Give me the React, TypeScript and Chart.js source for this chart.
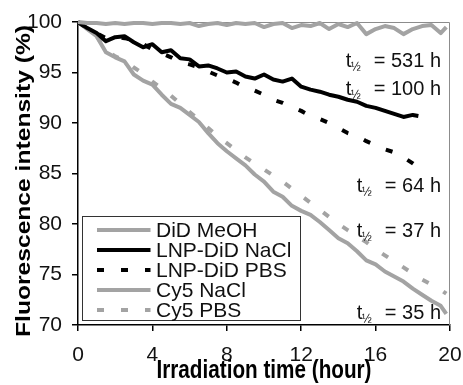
import { useEffect, useRef } from "react";
import { Chart, registerables } from "chart.js";
Chart.register(...registerables);

const timeFull = [0, 0.5, 1, 1.5, 2, 2.5, 3, 3.5, 4, 4.5, 5, 5.5, 6, 6.5, 7, 7.5, 8, 8.5, 9, 9.5, 10, 10.5, 11, 11.5, 12, 12.5, 13, 13.5, 14, 14.5, 15, 15.5, 16, 16.5, 17, 17.5, 18, 18.5, 19, 19.5, 19.8];
const timeLNP = [0, 0.5, 1, 1.5, 2, 2.5, 3, 3.5, 4, 4.5, 5, 5.5, 6, 6.5, 7, 7.5, 8, 8.5, 9, 9.5, 10, 10.5, 11, 11.5, 12, 12.5, 13, 13.5, 14, 14.5, 15, 15.5, 16, 16.5, 17, 17.5, 18, 18.3];

const didMeOH = [100, 99.9, 99.9, 99.8, 99.9, 99.8, 99.9, 99.9, 99.8, 99.9, 99.9, 99.8, 99.9, 99.6, 99.8, 99.9, 99.7, 99.9, 99.8, 99.9, 99.5, 99.8, 99.9, 99.4, 99.7, 99.6, 99.9, 99.3, 99.8, 99.5, 99.9, 98.8, 99.3, 99.6, 99.4, 98.8, 99.3, 99.6, 99.7, 98.9, 99.5];
const lnpNaCl = [100, 99.4, 98.9, 98.1, 98.5, 98.6, 98.0, 97.5, 97.8, 97.0, 97.2, 96.4, 96.3, 95.6, 95.7, 95.4, 95.0, 95.1, 94.6, 94.4, 94.8, 94.3, 94.1, 94.4, 93.6, 93.3, 93.1, 92.8, 92.6, 92.3, 92.1, 91.7, 91.5, 91.2, 90.9, 90.6, 90.8, 90.7];
const lnpPBS = [100, 99.4, 98.9, 98.4, 98.5, 98.4, 98.2, 97.8, 97.3, 96.9, 96.5, 96.0, 95.8, 95.5, 95.1, 94.7, 94.4, 94.0, 93.5, 93.2, 92.8, 92.3, 92.0, 91.6, 91.2, 90.7, 90.4, 90.0, 89.5, 89.0, 88.7, 88.2, 87.8, 87.4, 87.1, 86.6, 86.0, 85.6];
const cy5NaCl = [100, 99.3, 98.6, 97.0, 96.5, 96.1, 94.8, 94.2, 93.8, 92.8, 91.9, 91.5, 90.8, 90.1, 89.0, 88.0, 87.2, 86.5, 85.8, 84.9, 84.2, 83.2, 82.7, 81.8, 81.3, 80.9, 80.2, 79.4, 78.6, 78.1, 77.3, 76.4, 76.0, 75.3, 74.8, 74.3, 73.6, 73.0, 72.4, 71.9, 71.1];
const cy5PBS = [100, 99.3, 98.6, 97.2, 96.6, 96.2, 95.5, 94.9, 94.1, 93.4, 92.7, 91.9, 91.1, 90.3, 89.5, 88.7, 88.0, 87.3, 86.6, 86.0, 85.4, 84.8, 84.2, 83.5, 82.8, 82.1, 81.4, 80.7, 80.0, 79.4, 78.8, 78.2, 77.5, 76.9, 76.3, 75.7, 75.1, 74.5, 74.0, 73.5, 73.1];

const seriesLabels = ["DiD MeOH", "LNP-DiD NaCl", "LNP-DiD PBS", "Cy5 NaCl", "Cy5 PBS"];
const halfLives = ["531", "100", "64", "37", "35"];
const xTitle = "Irradiation time (hour)";
const yTitle = "Fluorescence intensity (%)";

const GRAY = "#a3a3a3";
const BLACK = "#000000";
const FONT = '"Liberation Sans", Arial, sans-serif';

const pts = (xs: number[], ys: number[]) => ys.map((y, i) => ({ x: xs[i], y }));

const deco = {
  id: "deco",
  beforeDatasetsDraw(chart: any) {
    const { ctx, chartArea } = chart;
    const { left, right, top, bottom } = chartArea;
    ctx.save();
    ctx.strokeStyle = "#8c8c8c";
    ctx.lineWidth = 1;
    ctx.beginPath();
    ctx.moveTo(left, top + 0.5);
    ctx.lineTo(right - 0.5, top + 0.5);
    ctx.lineTo(right - 0.5, bottom);
    ctx.stroke();
    ctx.restore();
  },
  afterDraw(chart: any) {
    const { ctx, chartArea, scales } = chart;
    const { left, right } = chartArea;
    ctx.save();
    // legend
    const lx = left + 4.5, ly = 216.5, lw = 218, lh = 104;
    ctx.fillStyle = "#fff";
    ctx.fillRect(lx, ly, lw, lh);
    ctx.strokeStyle = "#333";
    ctx.lineWidth = 1;
    ctx.setLineDash([]);
    ctx.strokeRect(lx, ly, lw, lh);
    chart.data.datasets.forEach((ds: any, i: number) => {
      const cy = ly + 13.5 + i * 20;
      ctx.strokeStyle = ds.borderColor;
      ctx.lineWidth = 4;
      ctx.lineCap = "butt";
      ctx.setLineDash(ds.borderDash || []);
      ctx.beginPath();
      ctx.moveTo(lx + 14.5, cy);
      ctx.lineTo(lx + 68, cy);
      ctx.stroke();
      ctx.setLineDash([]);
      ctx.fillStyle = "#111";
      ctx.font = `21px ${FONT}`;
      ctx.textAlign = "left";
      ctx.textBaseline = "middle";
      ctx.fillText(ds.label, lx + 73.5, cy + 1);
    });
    // half-life annotations
    const anchors = [95.5, 92.8, 83.2, 78.7, 70.6];
    const rx = right - 9;
    halfLives.forEach((h, i) => {
      const by = scales.y.getPixelForValue(anchors[i]);
      ctx.fillStyle = "#111";
      ctx.textBaseline = "alphabetic";
      ctx.textAlign = "right";
      ctx.font = `20px ${FONT}`;
      const main = `= ${h} h`;
      ctx.fillText(main, rx, by);
      const mw = ctx.measureText(main).width;
      const subEnd = rx - mw - 13;
      ctx.font = `12px ${FONT}`;
      ctx.fillText("\u00bd", subEnd, by + 4);
      const sw = ctx.measureText("\u00bd").width;
      ctx.font = `20px ${FONT}`;
      ctx.fillText("t", subEnd - sw + 0.5, by);
    });
    // x title
    ctx.fillStyle = "#000";
    ctx.font = `bold 25px ${FONT}`;
    ctx.textAlign = "center";
    ctx.textBaseline = "alphabetic";
    let w = ctx.measureText(xTitle).width;
    ctx.save();
    ctx.translate((left + right) / 2, 378);
    ctx.scale(215 / w, 1);
    ctx.fillText(xTitle, 0, 0);
    ctx.restore();
    // y title
    ctx.font = `bold 24px ${FONT}`;
    w = ctx.measureText(yTitle).width;
    ctx.save();
    ctx.translate(30, 181);
    ctx.rotate(-Math.PI / 2);
    ctx.scale(312 / w, 0.85);
    ctx.fillText(yTitle, 0, 0);
    ctx.restore();
    ctx.restore();
  },
};

export default function App() {
  const ref = useRef<HTMLCanvasElement>(null);
  useEffect(() => {
    document.body.style.margin = "0";
    const canvas = ref.current!;
    const mk = (label: string, xs: number[], ys: number[], color: string, dash?: number[]) => ({
      label,
      data: pts(xs, ys),
      borderColor: color,
      backgroundColor: color,
      borderWidth: 4,
      borderDash: dash,
      borderCapStyle: "butt",
      borderJoinStyle: "round",
      pointRadius: 0,
      tension: 0,
      clip: false,
    });
    const chart = new Chart(canvas, {
      type: "line",
      data: {
        datasets: [
          mk(seriesLabels[0], timeFull, didMeOH, GRAY),
          mk(seriesLabels[1], timeLNP, lnpNaCl, BLACK),
          mk(seriesLabels[2], timeLNP, lnpPBS, BLACK, [7, 17]),
          mk(seriesLabels[3], timeFull, cy5NaCl, GRAY),
          mk(seriesLabels[4], timeFull, cy5PBS, GRAY, [7, 17]),
        ] as any,
      },
      options: {
        animation: false,
        responsive: false,
        devicePixelRatio: 1,
        layout: { padding: { top: 22, right: 13, left: 0, bottom: 0 } },
        plugins: { legend: { display: false }, tooltip: { enabled: false } },
        scales: {
          x: {
            type: "linear",
            min: 0,
            max: 20,
            ticks: { stepSize: 4, color: "#111", font: { family: FONT, size: 21 }, padding: 12, maxRotation: 0 },
            grid: { drawOnChartArea: false, tickLength: 6, color: "#000", lineWidth: 1.5 },
            border: { color: "#000", width: 1.5 },
            afterFit: (s: any) => { s.height = 60; s.paddingRight = 0; s.paddingLeft = 0; },
          },
          y: {
            min: 70,
            max: 100,
            ticks: { stepSize: 5, color: "#111", font: { family: FONT, size: 21 }, padding: 10 },
            grid: { drawOnChartArea: false, tickLength: 6, color: "#000", lineWidth: 1.5 },
            border: { color: "#000", width: 1.5 },
            afterFit: (s: any) => { s.width = 78; s.paddingTop = 0; s.paddingBottom = 0; },
          },
        },
      },
      plugins: [deco],
    });
    return () => chart.destroy();
  }, []);
  return (
    <div style={{ width: 463, height: 385, background: "#fff" }}>
      <canvas ref={ref} width={463} height={385} />
    </div>
  );
}
